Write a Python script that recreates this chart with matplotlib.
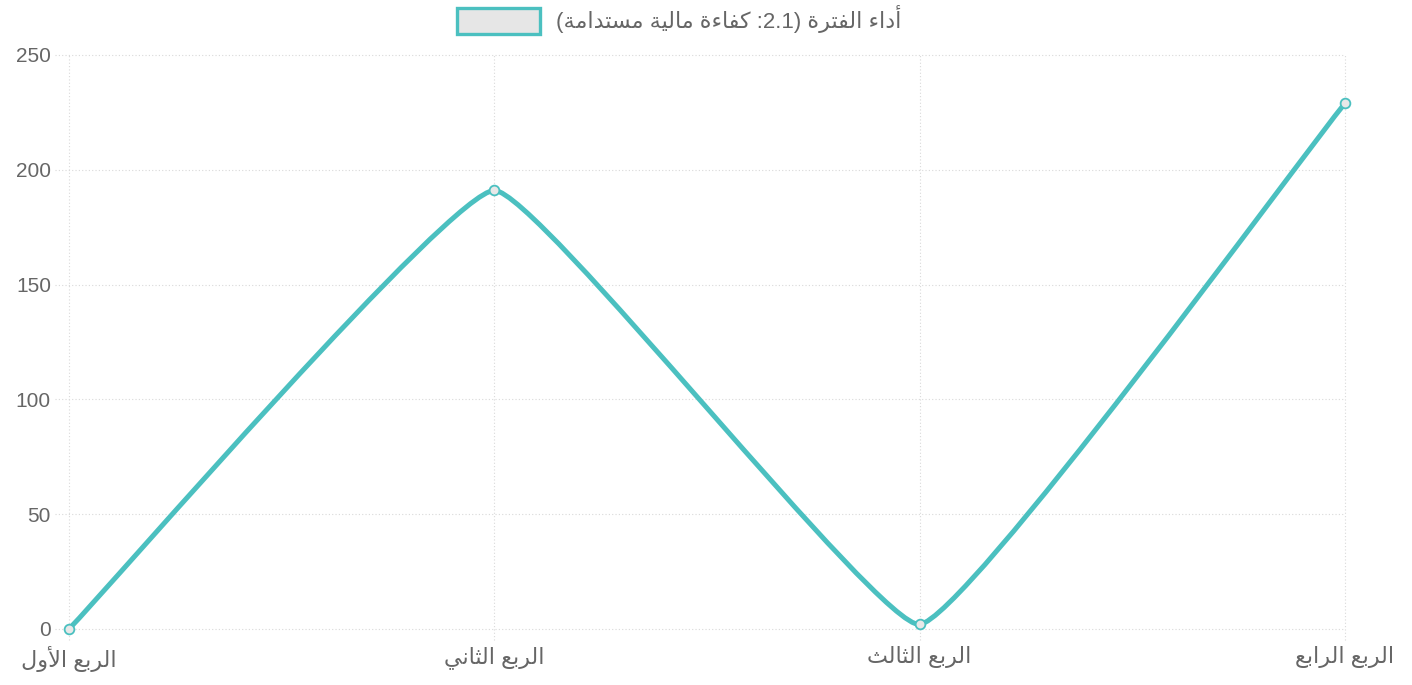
import re
import matplotlib
matplotlib.use("Agg")
import matplotlib.pyplot as plt
from matplotlib.path import Path
from matplotlib.patches import PathPatch, Rectangle

plt.rcParams['font.family'] = ['Liberation Sans', 'DejaVu Sans']

# data
quarters = ['الربع الأول', 'الربع الثاني', 'الربع الثالث', 'الربع الرابع']
values = [0, 191, 2, 229]
series_label = 'أداء الفترة (2.1: كفاءة مالية مستدامة)'
y_ticks = [0, 50, 100, 150, 200, 250]

TEAL = '#4bc0c0'
GRID = '#d9d9d9'
TXT = '#666666'

# very small arabic shaper (presentation forms) + visual ordering
FORMS = {
    'ء': (0xFE80,), 'أ': (0xFE83, 0xFE84), 'ا': (0xFE8D, 0xFE8E),
    'ب': (0xFE8F, 0xFE90, 0xFE91, 0xFE92), 'ة': (0xFE93, 0xFE94),
    'ت': (0xFE95, 0xFE96, 0xFE97, 0xFE98), 'ث': (0xFE99, 0xFE9A, 0xFE9B, 0xFE9C),
    'د': (0xFEA9, 0xFEAA), 'ر': (0xFEAD, 0xFEAE),
    'س': (0xFEB1, 0xFEB2, 0xFEB3, 0xFEB4), 'ع': (0xFEC9, 0xFECA, 0xFECB, 0xFECC),
    'ف': (0xFED1, 0xFED2, 0xFED3, 0xFED4), 'ك': (0xFED9, 0xFEDA, 0xFEDB, 0xFEDC),
    'ل': (0xFEDD, 0xFEDE, 0xFEDF, 0xFEE0), 'م': (0xFEE1, 0xFEE2, 0xFEE3, 0xFEE4),
    'ن': (0xFEE5, 0xFEE6, 0xFEE7, 0xFEE8), 'و': (0xFEED, 0xFEEE),
    'ي': (0xFEF1, 0xFEF2, 0xFEF3, 0xFEF4),
    'لأ': (0xFEF7, 0xFEF8), 'لا': (0xFEFB, 0xFEFC),
}


def ar(s):
    toks = []
    i = 0
    while i < len(s):
        if s[i] == 'ل' and i + 1 < len(s) and s[i + 1] in 'اأ':
            toks.append(s[i:i + 2])
            i += 2
        else:
            toks.append(s[i])
            i += 1
    out = []
    for j, t in enumerate(toks):
        if t not in FORMS:
            out.append(t)
            continue
        f = FORMS[t]
        prev = j > 0 and toks[j - 1] in FORMS and len(FORMS[toks[j - 1]]) == 4
        nxt = len(f) == 4 and j + 1 < len(toks) and toks[j + 1] in FORMS
        if prev and len(f) > 1:
            c = f[3] if nxt else f[1]
        else:
            c = f[2] if nxt else f[0]
        out.append(chr(c))
    v = ''.join(out)[::-1].translate(str.maketrans('()', ')('))
    return re.sub(r'[0-9.]+', lambda m: m.group(0)[::-1], v)


fig = plt.figure(figsize=(14.12, 6.85), dpi=100)
ax = fig.add_axes([69 / 1412, 56 / 685, 1276 / 1412, 574 / 685])
ax.set_xlim(0, len(quarters) - 1)
ax.set_ylim(0, 250)
for s in ax.spines.values():
    s.set_visible(False)

# dotted grid that pokes out a bit like chart.js ticks
for v in y_ticks:
    ax.axhline(v, xmin=-0.011, xmax=1, color=GRID, lw=0.8, ls=(0, (1, 2)), clip_on=False, zorder=0)
for i in range(len(quarters)):
    ax.axvline(i, ymin=-0.019, ymax=1, color=GRID, lw=0.8, ls=(0, (1, 2)), clip_on=False, zorder=0)

ax.set_yticks(y_ticks)
ax.set_yticklabels([str(v) for v in y_ticks])
ax.set_xticks(range(len(quarters)))
ax.set_xticklabels([ar(q) for q in quarters])
ax.tick_params(axis='y', length=0, pad=13, labelsize=15, labelcolor=TXT)
ax.tick_params(axis='x', length=0, pad=12, labelsize=16, labelcolor=TXT)

# chart.js style bezier (tension) computed in pixel space
t = 0.1
sx, sy = 1276 / 3, 574 / 250
pts = [(i * sx, v * sy) for i, v in enumerate(values)]
n = len(pts)
cps = []
for i in range(n):
    p0 = pts[i - 1] if i > 0 else pts[i]
    p1 = pts[i]
    p2 = pts[i + 1] if i < n - 1 else pts[i]
    d01 = ((p1[0] - p0[0]) ** 2 + (p1[1] - p0[1]) ** 2) ** 0.5
    d12 = ((p2[0] - p1[0]) ** 2 + (p2[1] - p1[1]) ** 2) ** 0.5
    s01 = d01 / (d01 + d12)
    s12 = d12 / (d01 + d12)
    fa, fb = t * s01, t * s12
    cp_prev = (p1[0] - fa * (p2[0] - p0[0]), p1[1] - fa * (p2[1] - p0[1]))
    cp_next = (p1[0] + fb * (p2[0] - p0[0]), p1[1] + fb * (p2[1] - p0[1]))
    cps.append((cp_prev, cp_next))

verts = [(pts[0][0] / sx, pts[0][1] / sy)]
codes = [Path.MOVETO]
for i in range(1, n):
    a = cps[i - 1][1]
    b = cps[i][0]
    verts += [(a[0] / sx, max(a[1], 0) / sy), (b[0] / sx, max(b[1], 0) / sy), (pts[i][0] / sx, pts[i][1] / sy)]
    codes += [Path.CURVE4] * 3
ax.add_patch(PathPatch(Path(verts, codes), fill=False, edgecolor=TEAL, lw=3.6,
                       capstyle='round', joinstyle='round', zorder=3))
ax.plot(range(n), values, 'o', ms=7, mfc='#e8e8e8', mec=TEAL, mew=1.3, clip_on=False, zorder=4)

# legend
fig.patches.append(Rectangle((457 / 1412, (685 - 34) / 685), 83 / 1412, 26 / 685,
                             transform=fig.transFigure, facecolor='#e6e6e6',
                             edgecolor=TEAL, lw=2.4))
fig.text(556 / 1412, (685 - 19) / 685, ar(series_label), ha='left', va='center',
         fontsize=16, color=TXT)

fig.savefig('out.png', dpi=100)
